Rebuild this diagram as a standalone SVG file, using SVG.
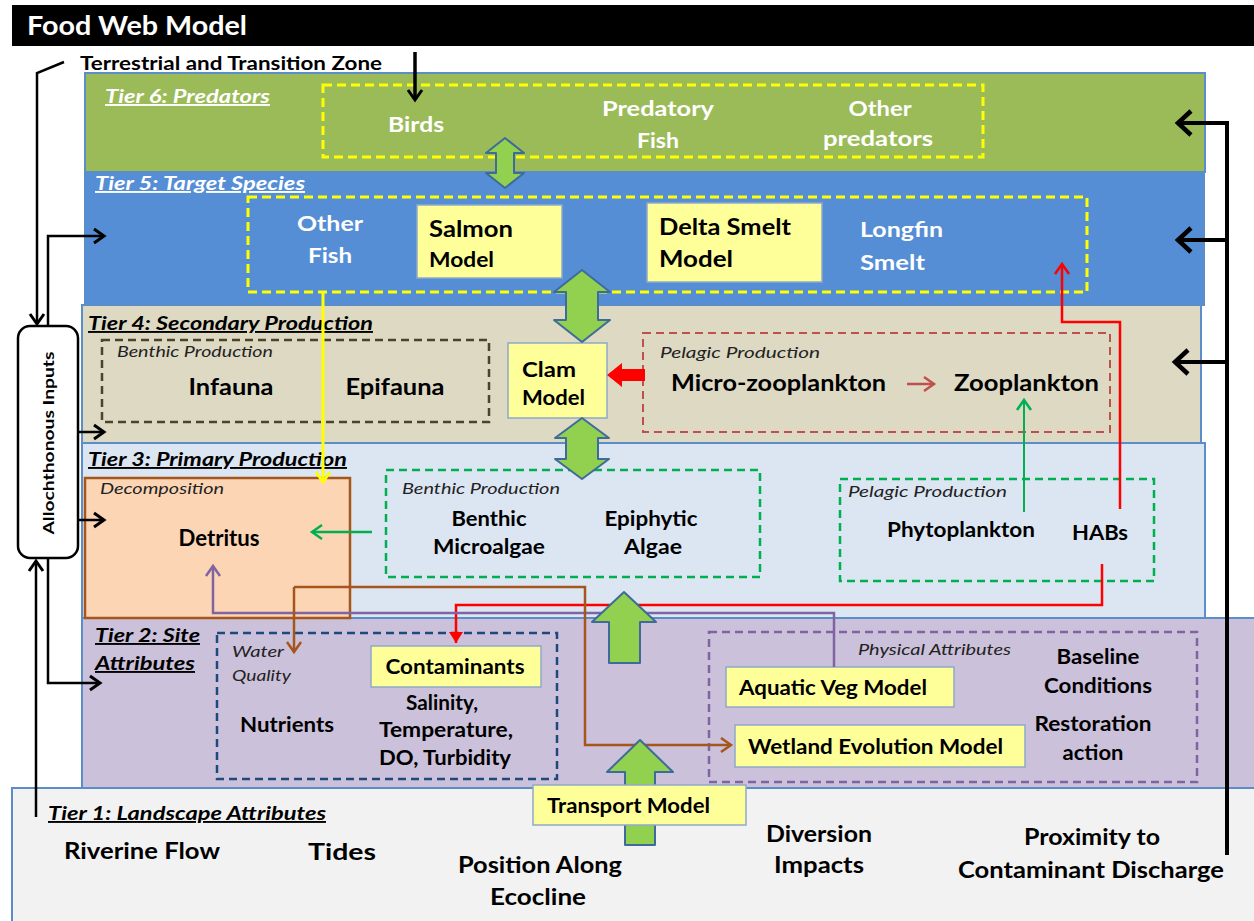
<svg xmlns="http://www.w3.org/2000/svg" width="1254" height="921" viewBox="0 0 1254 921">
<style>
text{font-family:Lato,"Liberation Sans",sans-serif}
.b{font-weight:bold}
.n{font-size:22px;font-weight:bold;fill:#000}
.nw{font-size:21px;font-weight:bold;fill:#fff}
.m{font-size:20px;font-weight:bold;fill:#000}
.tl{font-size:19px;font-weight:bold;font-style:italic;text-decoration:underline}
.sub{font-size:16px;font-style:italic;fill:#222}
.c{text-anchor:middle}
.tier{stroke:#5B8DC9;stroke-width:2}
.ybox{fill:#FFFF99;stroke:#8EA9C9;stroke-width:1.5}
.ydash{fill:none;stroke:#FFFF00;stroke-width:3;stroke-dasharray:9 5}
.blk{fill:#92D050;stroke:#3E6B9A;stroke-width:2;stroke-linejoin:round}
.k{fill:none;stroke:#000;stroke-linejoin:miter}
</style>
<defs>
<marker id="akL" markerUnits="userSpaceOnUse" markerWidth="24" markerHeight="30" refX="17" refY="15" orient="auto"><path d="M4,3 L17,15 L4,27" fill="none" stroke="#000" stroke-width="4.5"/></marker>
<marker id="akM" markerUnits="userSpaceOnUse" markerWidth="20" markerHeight="20" refX="13" refY="10" orient="auto"><path d="M3,3 L13,10 L3,17" fill="none" stroke="#000" stroke-width="3"/></marker>
<marker id="ay" markerUnits="userSpaceOnUse" markerWidth="20" markerHeight="20" refX="13" refY="10" orient="auto"><path d="M3,3 L13,10 L3,17" fill="none" stroke="#FFFF00" stroke-width="3"/></marker>
<marker id="ag" markerUnits="userSpaceOnUse" markerWidth="20" markerHeight="20" refX="13" refY="10" orient="auto"><path d="M3,3 L13,10 L3,17" fill="none" stroke="#00B050" stroke-width="2.5"/></marker>
<marker id="ar" markerUnits="userSpaceOnUse" markerWidth="20" markerHeight="20" refX="13" refY="10" orient="auto"><path d="M3,3 L13,10 L3,17" fill="none" stroke="#FF0000" stroke-width="2.5"/></marker>
<marker id="arf" markerUnits="userSpaceOnUse" markerWidth="20" markerHeight="20" refX="13" refY="10" orient="auto"><path d="M2,3 L13,10 L2,17 Z" fill="#FF0000"/></marker>
<marker id="ard" markerUnits="userSpaceOnUse" markerWidth="20" markerHeight="20" refX="13" refY="10" orient="auto"><path d="M3,3 L13,10 L3,17" fill="none" stroke="#C0504D" stroke-width="2.5"/></marker>
<marker id="abr" markerUnits="userSpaceOnUse" markerWidth="20" markerHeight="20" refX="13" refY="10" orient="auto"><path d="M3,3 L13,10 L3,17" fill="none" stroke="#A5561C" stroke-width="2.5"/></marker>
<marker id="apu" markerUnits="userSpaceOnUse" markerWidth="20" markerHeight="20" refX="13" refY="10" orient="auto"><path d="M3,3 L13,10 L3,17" fill="none" stroke="#8064A2" stroke-width="2.5"/></marker>
</defs>
<rect width="1254" height="921" fill="#fff"/>

<g id="title">
<rect x="12" y="5" width="1242" height="41" fill="#000"/>
<text x="27" y="35" font-size="26" class="b" fill="#fff" textLength="220" lengthAdjust="spacingAndGlyphs">Food Web Model</text>
</g>
<g id="terrestrial">
<text x="80" y="70" font-size="19" class="b" fill="#000" textLength="302" lengthAdjust="spacingAndGlyphs">Terrestrial and Transition Zone</text>
</g>

<g id="tier1">
<rect class="tier" x="12" y="788" width="1250" height="140" fill="#F2F2F2"/>
<text class="tl" x="48" y="820" fill="#000" font-size="18" textLength="278" lengthAdjust="spacingAndGlyphs">Tier 1: Landscape Attributes</text>
<text class="n" x="64" y="859" textLength="156" lengthAdjust="spacingAndGlyphs">Riverine Flow</text>
<text class="n c" x="342" y="860" textLength="68" lengthAdjust="spacingAndGlyphs">Tides</text>
<text class="n c" x="540" y="873" textLength="164" lengthAdjust="spacingAndGlyphs">Position Along</text>
<text class="n c" x="538" y="905" textLength="96" lengthAdjust="spacingAndGlyphs">Ecocline</text>
<text class="n c" x="819" y="842" textLength="106" lengthAdjust="spacingAndGlyphs">Diversion</text>
<text class="n c" x="819" y="873" textLength="90" lengthAdjust="spacingAndGlyphs">Impacts</text>
<text class="n c" x="1092" y="845" textLength="136" lengthAdjust="spacingAndGlyphs">Proximity to</text>
<text class="n c" x="1091" y="878" textLength="266" lengthAdjust="spacingAndGlyphs">Contaminant Discharge</text>
</g>
<g id="tier2">
<rect class="tier" x="82" y="618" width="1180" height="170" fill="#CCC1DA"/>
<text class="tl" x="95" y="642" fill="#000" textLength="105" lengthAdjust="spacingAndGlyphs">Tier 2: Site</text>
<text class="tl" x="95" y="670" fill="#000" textLength="100" lengthAdjust="spacingAndGlyphs">Attributes</text>
</g>
<g id="tier3">
<rect class="tier" x="82" y="443" width="1123" height="175" fill="#DCE6F2"/>
<text class="tl" x="88" y="466" fill="#000" textLength="259" lengthAdjust="spacingAndGlyphs">Tier 3: Primary Production</text>
</g>
<g id="tier4">
<rect class="tier" x="82" y="305" width="1119" height="138" fill="#DDD9C3"/>
<text class="tl" x="88" y="330" fill="#000" textLength="285" lengthAdjust="spacingAndGlyphs">Tier 4: Secondary Production</text>
</g>
<g id="tier5">
<rect class="tier" x="85" y="172" width="1119" height="133" fill="#558ED5"/>
<text class="tl" x="95" y="190" fill="#fff" font-size="18" textLength="210" lengthAdjust="spacingAndGlyphs">Tier 5: Target Species</text>
</g>
<g id="tier6">
<rect class="tier" x="85" y="73" width="1120" height="99" fill="#9BBB59"/>
<text class="tl" x="105" y="103" fill="#fff" font-size="18" textLength="165" lengthAdjust="spacingAndGlyphs">Tier 6: Predators</text>
</g>

<g id="predators">
<rect class="ydash" x="323" y="85" width="660" height="72"/>
<text class="nw c" x="416" y="132" textLength="56" lengthAdjust="spacingAndGlyphs">Birds</text>
<text class="nw c" x="658" y="116" textLength="112" lengthAdjust="spacingAndGlyphs">Predatory</text>
<text class="nw c" x="658" y="148" textLength="42" lengthAdjust="spacingAndGlyphs">Fish</text>
<text class="nw c" x="880" y="116" textLength="63" lengthAdjust="spacingAndGlyphs">Other</text>
<text class="nw c" x="878" y="146" textLength="110" lengthAdjust="spacingAndGlyphs">predators</text>
</g>

<g id="target-species">
<rect class="ydash" x="248" y="197" width="839" height="95"/>
<text class="nw c" x="330" y="231" textLength="66" lengthAdjust="spacingAndGlyphs">Other</text>
<text class="nw c" x="330" y="263" textLength="44" lengthAdjust="spacingAndGlyphs">Fish</text>
<text class="nw" x="860" y="237" textLength="83" lengthAdjust="spacingAndGlyphs">Longfin</text>
<text class="nw" x="860" y="270" textLength="65" lengthAdjust="spacingAndGlyphs">Smelt</text>
</g>
<g id="salmon-model">
<rect class="ybox" x="417" y="205" width="145" height="73"/>
<text class="n" x="429" y="237" textLength="84" lengthAdjust="spacingAndGlyphs">Salmon</text>
<text class="m" x="429" y="267" textLength="65" lengthAdjust="spacingAndGlyphs">Model</text>
</g>
<g id="delta-smelt-model">
<rect class="ybox" x="647" y="203" width="175" height="79"/>
<text class="n" x="659" y="235" textLength="132" lengthAdjust="spacingAndGlyphs">Delta Smelt</text>
<text class="n" x="659" y="267" textLength="74" lengthAdjust="spacingAndGlyphs">Model</text>
</g>

<g id="t4-benthic">
<rect x="102" y="340" width="387" height="82" fill="none" stroke="#4A452A" stroke-width="2.5" stroke-dasharray="8 5"/>
<text class="sub" x="117" y="357" textLength="156" lengthAdjust="spacingAndGlyphs">Benthic Production</text>
<text class="n c" x="231" y="395" textLength="85" lengthAdjust="spacingAndGlyphs">Infauna</text>
<text class="n c" x="395" y="395" textLength="99" lengthAdjust="spacingAndGlyphs">Epifauna</text>
</g>
<g id="clam-model">
<rect class="ybox" x="508" y="343" width="99" height="75"/>
<text class="m" x="522" y="377" textLength="54" lengthAdjust="spacingAndGlyphs">Clam</text>
<text class="m" x="522" y="405" font-size="18" textLength="63" lengthAdjust="spacingAndGlyphs">Model</text>
</g>
<g id="t4-pelagic">
<rect x="643" y="333" width="467" height="99" fill="none" stroke="#C0504D" stroke-width="2" stroke-dasharray="8 5"/>
<text class="sub" x="660" y="358" font-size="15" textLength="160" lengthAdjust="spacingAndGlyphs">Pelagic  Production</text>
<text class="n" x="671" y="391" textLength="215" lengthAdjust="spacingAndGlyphs">Micro-zooplankton</text>
<text class="n" x="954" y="391" textLength="145" lengthAdjust="spacingAndGlyphs">Zooplankton</text>
</g>

<g id="decomposition">
<rect x="85" y="478" width="265" height="140" fill="#FCD5B5" stroke="#A5561C" stroke-width="2.5"/>
<text class="sub" x="100" y="494" textLength="124" lengthAdjust="spacingAndGlyphs">Decomposition</text>
<text class="n c" x="219" y="546" textLength="81" lengthAdjust="spacingAndGlyphs">Detritus</text>
</g>
<g id="t3-benthic">
<rect x="386" y="470" width="374" height="107" fill="none" stroke="#00B050" stroke-width="2.5" stroke-dasharray="8 5"/>
<text class="sub" x="402" y="494" font-size="15" textLength="158" lengthAdjust="spacingAndGlyphs">Benthic Production</text>
<text class="m c" x="489" y="526" textLength="75" lengthAdjust="spacingAndGlyphs">Benthic</text>
<text class="m c" x="489" y="554" textLength="112" lengthAdjust="spacingAndGlyphs">Microalgae</text>
<text class="m c" x="651" y="526" textLength="93" lengthAdjust="spacingAndGlyphs">Epiphytic</text>
<text class="m c" x="653" y="554" textLength="58" lengthAdjust="spacingAndGlyphs">Algae</text>
</g>
<g id="t3-pelagic">
<rect x="840" y="479" width="314" height="102" fill="none" stroke="#00B050" stroke-width="2.5" stroke-dasharray="8 5"/>
<text class="sub" x="848" y="497" font-size="15" textLength="159" lengthAdjust="spacingAndGlyphs">Pelagic  Production</text>
<text class="m c" x="961" y="537" textLength="148" lengthAdjust="spacingAndGlyphs">Phytoplankton</text>
<text class="m c" x="1100" y="540" textLength="56" lengthAdjust="spacingAndGlyphs">HABs</text>
</g>

<g id="water-quality">
<rect x="217" y="633" width="340" height="146" fill="none" stroke="#1F497D" stroke-width="2.5" stroke-dasharray="8 5"/>
<text class="sub" x="232" y="657" textLength="52" lengthAdjust="spacingAndGlyphs">Water</text>
<text class="sub" x="232" y="681" textLength="59" lengthAdjust="spacingAndGlyphs">Quality</text>
<text class="m c" x="287" y="732" textLength="94" lengthAdjust="spacingAndGlyphs">Nutrients</text>
<text class="m c" x="442" y="710" textLength="72" lengthAdjust="spacingAndGlyphs">Salinity,</text>
<text class="m c" x="446" y="737" textLength="134" lengthAdjust="spacingAndGlyphs">Temperature,</text>
<text class="m c" x="445" y="765" textLength="132" lengthAdjust="spacingAndGlyphs">DO, Turbidity</text>
</g>
<g id="contaminants">
<rect class="ybox" x="371" y="646" width="170" height="41"/>
<text class="m c" x="455" y="674" textLength="139" lengthAdjust="spacingAndGlyphs">Contaminants</text>
</g>
<g id="physical-attributes">
<rect x="709" y="632" width="488" height="150" fill="none" stroke="#8064A2" stroke-width="2.5" stroke-dasharray="8 5"/>
<text class="sub" x="858" y="655" font-size="15" textLength="153" lengthAdjust="spacingAndGlyphs">Physical Attributes</text>
<text class="m c" x="1098" y="664" textLength="83" lengthAdjust="spacingAndGlyphs">Baseline</text>
<text class="m c" x="1098" y="693" textLength="108" lengthAdjust="spacingAndGlyphs">Conditions</text>
<text class="m c" x="1093" y="731" textLength="117" lengthAdjust="spacingAndGlyphs">Restoration</text>
<text class="m c" x="1093" y="760" textLength="61" lengthAdjust="spacingAndGlyphs">action</text>
</g>
<g id="aquatic-veg-model">
<rect class="ybox" x="726" y="667" width="228" height="40"/>
<text class="m" x="739" y="695" textLength="188" lengthAdjust="spacingAndGlyphs">Aquatic Veg Model</text>
</g>
<g id="wetland-evolution-model">
<rect class="ybox" x="735" y="725" width="290" height="42"/>
<text class="m" x="748" y="754" textLength="255" lengthAdjust="spacingAndGlyphs">Wetland Evolution Model</text>
</g>

<g id="allochthonous-inputs">
<rect x="18" y="326" width="60" height="232" rx="12" fill="#fff" stroke="#000" stroke-width="2.5"/>
<text class="b" x="0" y="0" font-size="16" text-anchor="middle" transform="translate(54,443) rotate(-90)" textLength="183" lengthAdjust="spacingAndGlyphs">Allochthonous Inputs</text>
</g>

<g id="connectors">
<path class="k" stroke-width="2.5" d="M64,62 L37,73 L37,324" marker-end="url(#akM)"/>
<path class="k" stroke-width="3.5" d="M415,52 L415,100" marker-end="url(#akM)"/>
<path class="k" stroke-width="4" d="M1227,855 L1227,123 L1178,123" marker-end="url(#akL)"/>
<path class="k" stroke-width="4" d="M1227,240 L1178,240" marker-end="url(#akL)"/>
<path class="k" stroke-width="4" d="M1227,362 L1175,362" marker-end="url(#akL)"/>
<path class="k" stroke-width="2.5" d="M48,326 L48,236 L104,236" marker-end="url(#akM)"/>
<path class="k" stroke-width="2.5" d="M78,432 L104,432" marker-end="url(#akM)"/>
<path class="k" stroke-width="2.5" d="M78,520 L104,520" marker-end="url(#akM)"/>
<path class="k" stroke-width="2.5" d="M48,558 L48,683 L100,683" marker-end="url(#akM)"/>
<path class="k" stroke-width="2.5" d="M36,817 L36,561" marker-end="url(#akM)"/>
<path fill="none" stroke="#FFFF00" stroke-width="3" d="M323,293 L323,482" marker-end="url(#ay)"/>
<path fill="none" stroke="#00B050" stroke-width="2.5" d="M372,532 L312,532" marker-end="url(#ag)"/>
<path fill="none" stroke="#00B050" stroke-width="2" d="M1024,512 L1024,400" marker-end="url(#ag)"/>
<path fill="none" stroke="#C0504D" stroke-width="2.5" d="M907,384 L934,384" marker-end="url(#ard)"/>
<path fill="none" stroke="#FF0000" stroke-width="2.5" d="M1120,509 L1120,322 L1062,322 L1062,264" marker-end="url(#ar)"/>
<path fill="none" stroke="#FF0000" stroke-width="2.5" d="M1102,564 L1102,605 L456,605 L456,643" marker-end="url(#arf)"/>
<path fill="none" stroke="#8064A2" stroke-width="2.5" d="M834,667 L834,613 L213,613 L213,566" marker-end="url(#apu)"/>
<path fill="none" stroke="#A5561C" stroke-width="2.5" d="M294,587 L585,587 L585,745 L731,745" marker-end="url(#abr)"/>
<path fill="none" stroke="#A5561C" stroke-width="2.5" d="M294,587 L294,652" marker-end="url(#abr)"/>
<polygon class="blk" points="505,138 524,153 514,153 514,173 524,173 505,188 486,173 496,173 496,153 486,153"/>
<polygon class="blk" points="582,270 610,292 598,292 598,320 610,320 582,342 554,320 566,320 566,292 554,292"/>
<polygon class="blk" points="582,418 609,438 598,438 598,459 609,459 582,479 555,459 566,459 566,438 555,438"/>
<polygon class="blk" points="624,592 656,622 640,622 640,663 609,663 609,622 592,622"/>
<polygon class="blk" points="640,740 673,772 655,772 655,845 625,845 625,772 607,772"/>
<polygon fill="#FF0000" points="607,375 622,363 622,369 645,369 645,381 622,381 622,387"/>
</g>

<g id="transport-model">
<rect class="ybox" x="533" y="785" width="213" height="40"/>
<text class="m" x="547" y="813" textLength="163" lengthAdjust="spacingAndGlyphs">Transport Model</text>
</g>
</svg>
